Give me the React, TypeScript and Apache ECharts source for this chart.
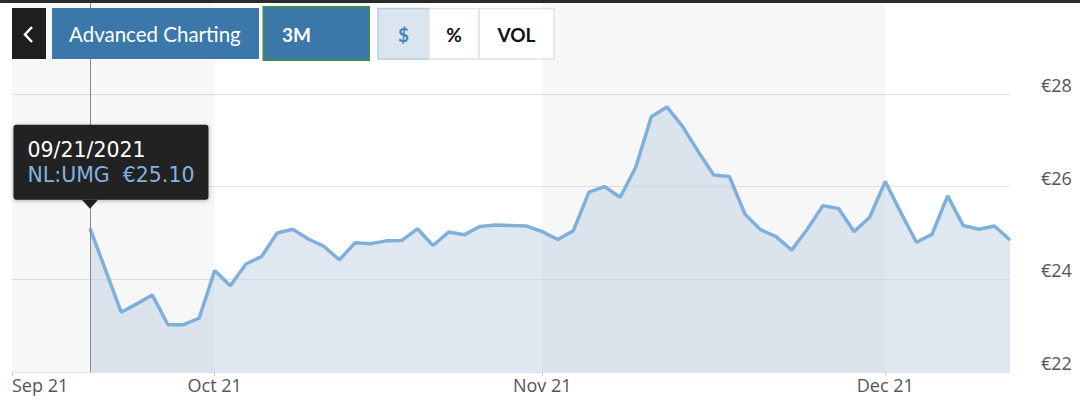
import React, { useEffect, useRef } from "react";
import * as echarts from "echarts";

// Trading days shown on the axis (first five precede the data)
const categories = [
  "09/14/2021", "09/15/2021", "09/16/2021", "09/17/2021", "09/20/2021",
  "09/21/2021", "09/22/2021", "09/23/2021", "09/24/2021", "09/27/2021",
  "09/28/2021", "09/29/2021", "09/30/2021",
  "10/01/2021", "10/04/2021", "10/05/2021", "10/06/2021", "10/07/2021",
  "10/08/2021", "10/11/2021", "10/12/2021", "10/13/2021", "10/14/2021",
  "10/15/2021", "10/18/2021", "10/19/2021", "10/20/2021", "10/21/2021",
  "10/22/2021", "10/25/2021", "10/26/2021", "10/27/2021", "10/28/2021",
  "10/29/2021",
  "11/01/2021", "11/02/2021", "11/03/2021", "11/04/2021", "11/05/2021",
  "11/08/2021", "11/09/2021", "11/10/2021", "11/11/2021", "11/12/2021",
  "11/15/2021", "11/16/2021", "11/17/2021", "11/18/2021", "11/19/2021",
  "11/22/2021", "11/23/2021", "11/24/2021", "11/25/2021", "11/26/2021",
  "11/29/2021", "11/30/2021",
  "12/01/2021", "12/02/2021", "12/03/2021", "12/06/2021", "12/07/2021",
  "12/08/2021", "12/09/2021", "12/10/2021", "12/13/2021",
];

const seriesName = "NL:UMG";
const firstPriceDate = "09/21/2021";

// Closing prices (EUR) from 09/21/2021 onwards
const prices = [
  25.10, 24.20, 23.29, 23.47, 23.66, 23.02, 23.02, 23.16,
  24.19, 23.86, 24.33, 24.49, 25.00, 25.08, 24.87, 24.71, 24.42, 24.79,
  24.77, 24.83, 24.84, 25.09, 24.73, 25.02, 24.96, 25.14, 25.17, 25.16,
  25.15,
  25.03, 24.86, 25.05, 25.88, 26.00, 25.77, 26.42, 27.51, 27.72, 27.30,
  26.76, 26.25, 26.22, 25.41, 25.07, 24.92, 24.63, 25.08, 25.59, 25.53,
  25.03, 25.34,
  26.11, 25.44, 24.80, 24.97, 25.80, 25.16, 25.08, 25.15, 24.85,
];

const monthTickDates = ["09/14/2021", "10/01/2021", "11/01/2021", "12/01/2021"];
const monthTickLabels = ["Sep 21", "Oct 21", "Nov 21", "Dec 21"];
const shadedRanges = [
  ["09/14/2021", "10/01/2021"],
  ["11/01/2021", "12/01/2021"],
];
const yMin = 22;
const yMax = 30;
const yInterval = 2;
const highlightDate = "09/21/2021";

const buttonLabels = ["Advanced Charting", "3M", "$", "%", "VOL"];

export default function App() {
  const ref = useRef<HTMLDivElement>(null);

  useEffect(() => {
    if (!ref.current) return;
    const chart = echarts.init(ref.current, undefined, { renderer: "svg" });

    const firstIdx = categories.indexOf(firstPriceDate);
    const seriesData = categories.map((d, i) =>
      i < firstIdx ? null : prices[i - firstIdx]
    );
    const hiVal = prices[categories.indexOf(highlightDate) - firstIdx];

    const btnFont = "Lato";
    const txt = (
      text: string,
      x: number,
      y: number,
      fill: string,
      size: number,
      weight: string,
      align: string
    ) => ({
      type: "text",
      z: 101,
      x,
      y,
      style: {
        text,
        fill,
        fontSize: size,
        fontFamily: btnFont,
        fontWeight: weight,
        textAlign: align,
        align,
        textVerticalAlign: "middle",
        verticalAlign: "middle",
      },
    });

    const option: any = {
      animation: false,
      grid: { left: 12, right: 70, top: 1.3, bottom: 36 },
      xAxis: {
        type: "category",
        data: categories,
        boundaryGap: false,
        axisLine: { lineStyle: { color: "#e3e3e3", width: 1 } },
        axisTick: {
          show: true,
          interval: (_i: number, v: string) => monthTickDates.includes(v),
          length: 4,
          lineStyle: { color: "#cccccc" },
        },
        axisLabel: {
          interval: (_i: number, v: string) => monthTickDates.includes(v),
          formatter: (v: string) => monthTickLabels[monthTickDates.indexOf(v)],
          color: "#555",
          fontFamily: "Open Sans",
          fontSize: 18,
          margin: 4,
          alignMinLabel: "left",
        },
        splitLine: { show: false },
      },
      yAxis: {
        type: "value",
        position: "right",
        min: yMin,
        max: yMax,
        interval: yInterval,
        axisLine: { show: false },
        axisTick: { show: false },
        splitLine: { lineStyle: { color: "#e3e3e3", width: 1 } },
        axisLabel: {
          formatter: "€{value}",
          color: "#555",
          fontFamily: "Open Sans",
          fontSize: 18,
          margin: 31,
          verticalAlign: "bottom",
          showMaxLabel: false,
        },
      },
      series: [
        {
          type: "line",
          name: seriesName,
          data: seriesData,
          showSymbol: false,
          symbol: "none",
          z: 3,
          lineStyle: { color: "#7fb0dc", width: 3.5 },
          areaStyle: {
            color: "rgba(191,209,225,0.5)",
            opacity: 1,
            origin: "start",
          },
          markArea: {
            silent: true,
            z: 1,
            itemStyle: { color: "rgba(0,0,0,0.03)" },
            data: shadedRanges.map(([a, b]) => [{ xAxis: a }, { xAxis: b }]),
          },
          markLine: {
            silent: true,
            z: 4,
            symbol: ["none", "none"],
            label: { show: false },
            lineStyle: { color: "#8a8a8a", width: 1, type: "solid" },
            data: [{ xAxis: highlightDate }],
          },
          markPoint: {
            silent: true,
            z: 10,
            data: [
              {
                coord: [highlightDate, hiVal],
                symbol: "triangle",
                symbolRotate: 180,
                symbolSize: [16, 9],
                symbolOffset: [0, -24],
                itemStyle: { color: "#222222" },
                label: { show: false },
              },
              {
                coord: [highlightDate, hiVal],
                symbol: "rect",
                symbolSize: 1,
                itemStyle: { color: "rgba(0,0,0,0)" },
                label: {
                  show: true,
                  position: [-76, -103],
                  align: "left",
                  verticalAlign: "top",
                  backgroundColor: "#222222",
                  borderRadius: 3,
                  padding: [13, 14, 13, 14],
                  shadowBlur: 4,
                  shadowColor: "rgba(0,0,0,0.3)",
                  shadowOffsetY: 1,
                  formatter:
                    "{d|" +
                    highlightDate +
                    "}\n{v|" +
                    seriesName +
                    "  €" +
                    hiVal.toFixed(2) +
                    "}",
                  rich: {
                    d: {
                      color: "#ffffff",
                      fontFamily: "DejaVu Sans",
                      fontSize: 20.5,
                      lineHeight: 24.5,
                    },
                    v: {
                      color: "#80b3e0",
                      fontFamily: "DejaVu Sans",
                      fontSize: 20.5,
                      lineHeight: 24.5,
                    },
                  },
                },
              },
            ],
          },
        },
      ],
      graphic: [
        {
          type: "rect",
          z: 100,
          shape: { x: 0, y: 0, width: 1080, height: 3 },
          style: { fill: "#2b2b2b" },
        },
        {
          type: "rect",
          z: 100,
          shape: { x: 12, y: 8, width: 34, height: 51 },
          style: { fill: "#1e1e1e" },
        },
        {
          type: "polyline",
          z: 101,
          shape: { points: [[32, 27], [25, 34.5], [32, 42]] },
          style: { stroke: "#ffffff", lineWidth: 2.5, fill: null },
        },
        {
          type: "rect",
          z: 100,
          shape: { x: 52, y: 8, width: 207, height: 51 },
          style: { fill: "#3b77a8" },
        },
        txt(buttonLabels[0], 69, 34, "#ffffff", 20.5, "normal", "left"),
        {
          type: "rect",
          z: 100,
          shape: { x: 263.5, y: 7, width: 105.5, height: 53 },
          style: { fill: "#3b77a8", stroke: "#3f8a4e", lineWidth: 2 },
        },
        txt(buttonLabels[1], 282, 34, "#ffffff", 19, "bold", "left"),
        {
          type: "rect",
          z: 100,
          shape: { x: 378, y: 8.5, width: 51, height: 50.5 },
          style: { fill: "#dae5f0", stroke: "#b9cde2", lineWidth: 1.5 },
        },
        txt(buttonLabels[2], 403.5, 34, "#4b86ba", 19, "bold", "center"),
        {
          type: "rect",
          z: 100,
          shape: { x: 429, y: 8.5, width: 50, height: 50.5 },
          style: { fill: "#ffffff", stroke: "#dde3ea", lineWidth: 1.5 },
        },
        txt(buttonLabels[3], 454, 34, "#111111", 19, "bold", "center"),
        {
          type: "rect",
          z: 100,
          shape: { x: 479, y: 8.5, width: 75, height: 50.5 },
          style: { fill: "#ffffff", stroke: "#dde3ea", lineWidth: 1.5 },
        },
        txt(buttonLabels[4], 516.5, 34, "#111111", 19, "bold", "center"),
      ],
    };

    chart.setOption(option);
    return () => chart.dispose();
  }, []);

  return (
    <div
      ref={ref}
      style={{
        position: "absolute",
        left: 0,
        top: 0,
        width: 1080,
        height: 408,
        background: "#ffffff",
      }}
    />
  );
}
